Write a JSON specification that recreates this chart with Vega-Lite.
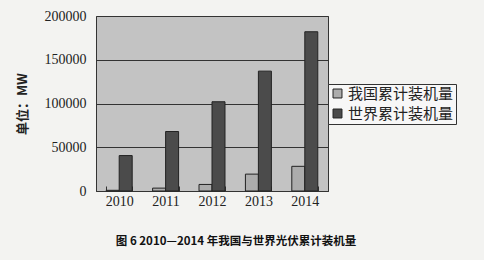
{
  "$schema": "https://vega.github.io/schema/vega-lite/v6.json",
  "autosize": {"type": "none"},
  "width": 232,
  "height": 175,
  "padding": {"left": 96, "top": 16, "right": 156, "bottom": 69},
  "background": "#f3f3f1",
  "view": {"fill": "#c3c3c3", "stroke": "#333333", "strokeWidth": 1},
  "title": {
    "text": "图 6 2010—2014 年我国与世界光伏累计装机量",
    "orient": "bottom",
    "anchor": "middle",
    "frame": "group",
    "dx": 24,
    "offset": 28,
    "font": "Noto Sans CJK SC",
    "fontSize": 11.5,
    "fontWeight": "bold",
    "color": "#111111"
  },
  "data": {
    "values": [
      {"year": "2010", "series": "我国累计装机量", "value": 800},
      {"year": "2010", "series": "世界累计装机量", "value": 40500},
      {"year": "2011", "series": "我国累计装机量", "value": 3300},
      {"year": "2011", "series": "世界累计装机量", "value": 68000},
      {"year": "2012", "series": "我国累计装机量", "value": 7500},
      {"year": "2012", "series": "世界累计装机量", "value": 102000},
      {"year": "2013", "series": "我国累计装机量", "value": 19300},
      {"year": "2013", "series": "世界累计装机量", "value": 137000},
      {"year": "2014", "series": "我国累计装机量", "value": 28200},
      {"year": "2014", "series": "世界累计装机量", "value": 182000}
    ]
  },
  "mark": {"type": "bar", "stroke": "#222222", "strokeWidth": 1},
  "encoding": {
    "x": {
      "field": "year",
      "type": "nominal",
      "scale": {"paddingInner": 0.44, "paddingOuter": 0.22},
      "axis": {
        "title": null,
        "labelAngle": 0,
        "labelFont": "Liberation Serif",
        "labelFontSize": 14,
        "labelColor": "#222222",
        "labelPadding": 8,
        "tickBand": "extent",
        "tickSize": -5,
        "tickColor": "#333333",
        "domainColor": "#333333"
      }
    },
    "xOffset": {"field": "series", "type": "nominal", "sort": ["我国累计装机量", "世界累计装机量"], "scale": {"paddingInner": 0}},
    "y": {
      "field": "value",
      "type": "quantitative",
      "scale": {"domain": [0, 200000], "nice": false},
      "axis": {
        "values": [0, 50000, 100000, 150000, 200000],
        "format": "d",
        "title": "单位：MW",
        "titleFont": "Noto Sans CJK SC",
        "titleFontSize": 13,
        "titleFontWeight": "bold",
        "titleColor": "#222222",
        "titlePadding": 15,
        "labelFont": "Liberation Serif",
        "labelFontSize": 14,
        "labelColor": "#222222",
        "labelPadding": 10,
        "ticks": false,
        "domain": false,
        "grid": true,
        "gridColor": "#333333",
        "gridWidth": 1
      }
    },
    "color": {
      "field": "series",
      "type": "nominal",
      "sort": ["我国累计装机量", "世界累计装机量"],
      "scale": {"domain": ["我国累计装机量", "世界累计装机量"], "range": ["#acacac", "#4b4b4b"]},
      "legend": {
        "title": null,
        "orient": "none",
        "legendX": 232,
        "legendY": 68,
        "symbolType": "square",
        "symbolSize": 80,
        "symbolStrokeColor": "#222222",
        "symbolStrokeWidth": 1,
        "labelFont": "Noto Sans CJK SC",
        "labelFontSize": 15,
        "labelColor": "#222222",
        "labelOffset": 3,
        "rowPadding": 4,
        "padding": 2,
        "strokeColor": "#333333",
        "fillColor": "#f7f7f7"
      }
    }
  }
}
